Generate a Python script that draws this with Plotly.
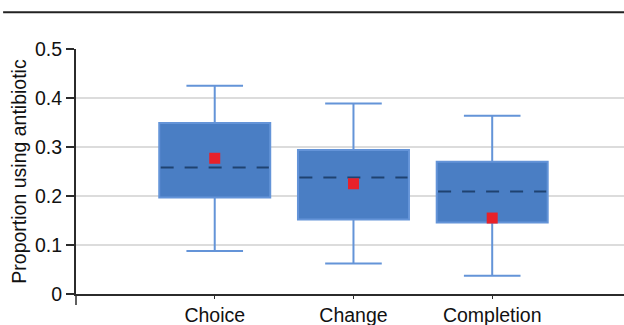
import plotly.graph_objects as go

# Summary statistics for each stage
categories = ["Choice", "Change", "Completion"]
lower_whisker = [0.088, 0.062, 0.037]
q1 = [0.197, 0.152, 0.146]
median = [0.258, 0.238, 0.209]
q3 = [0.349, 0.294, 0.270]
upper_whisker = [0.425, 0.389, 0.364]
mean = [0.277, 0.225, 0.155]

y_ticks = [0, 0.1, 0.2, 0.3, 0.4, 0.5]
y_tick_labels = ["0", "0.1", "0.2", "0.3", "0.4", "0.5"]

positions = list(range(len(categories)))
box_width = 0.8

FILL = "#4a7ec4"
WHISKER = "#6494d8"
MEDIAN = "#1f4270"
MEAN = "#e8212a"
AXIS = "#2b2b2b"
FONT = "Liberation Sans, Arial, Helvetica, sans-serif"

fig = go.Figure()

fig.add_trace(go.Box(
    x=positions,
    q1=q1, median=median, q3=q3,
    lowerfence=lower_whisker, upperfence=upper_whisker,
    width=box_width,
    whiskerwidth=0.51,
    fillcolor=FILL,
    line=dict(color=WHISKER, width=2),
    boxpoints=False,
    showlegend=False,
    hoverinfo="skip",
))

# Median drawn as a dashed line across each box
mx, my = [], []
for p, m in zip(positions, median):
    mx += [p - box_width / 2 + 0.01, p + box_width / 2 - 0.01, None]
    my += [m, m, None]
fig.add_trace(go.Scatter(x=mx, y=my, mode="lines",
                         line=dict(color=FILL, width=3),
                         showlegend=False, hoverinfo="skip"))
fig.add_trace(go.Scatter(x=mx, y=my, mode="lines",
                         line=dict(color=MEDIAN, width=2, dash="13px,11px"),
                         showlegend=False, hoverinfo="skip"))

# Mean marker
fig.add_trace(go.Scatter(x=positions, y=mean, mode="markers",
                         marker=dict(symbol="square", size=11, color=MEAN,
                                     line=dict(width=0)),
                         showlegend=False, hoverinfo="skip"))

fig.update_layout(
    width=624, height=325,
    margin=dict(l=76, r=0, t=49, b=31),
    paper_bgcolor="white", plot_bgcolor="white",
    font=dict(family=FONT, size=19.5, color="#111"),
    xaxis=dict(
        range=[-1.0, 2.95],
        tickvals=positions, ticktext=categories,
        showgrid=False, zeroline=False,
        showline=True, linecolor=AXIS, linewidth=2,
        ticks="outside", ticklen=3, tickcolor=AXIS, tickwidth=1,
        tickfont=dict(size=19.5),
    ),
    yaxis=dict(
        range=[0, 0.5],
        tickvals=y_ticks, ticktext=y_tick_labels,
        showgrid=True, gridcolor="#dcdcdc", gridwidth=1.5,
        zeroline=False,
        showline=True, linecolor=AXIS, linewidth=2,
        ticks="outside", ticklen=8, tickcolor=AXIS, tickwidth=2,
        tickfont=dict(size=19.5),
        title=dict(text="Proportion using antibiotic", font=dict(size=19.5),
                   standoff=3),
    ),
    shapes=[
        # rule across the top of the figure
        dict(type="line", xref="paper", yref="paper",
             x0=-0.133, x1=1.0, y0=1.150, y1=1.150,
             line=dict(color="#222", width=2)),
        # short tick below the axis corner
        dict(type="line", xref="paper", yref="paper",
             x0=0, x1=0, y0=0, y1=-0.045,
             line=dict(color=AXIS, width=1.5)),
    ],
)

fig.write_html("out.html")
